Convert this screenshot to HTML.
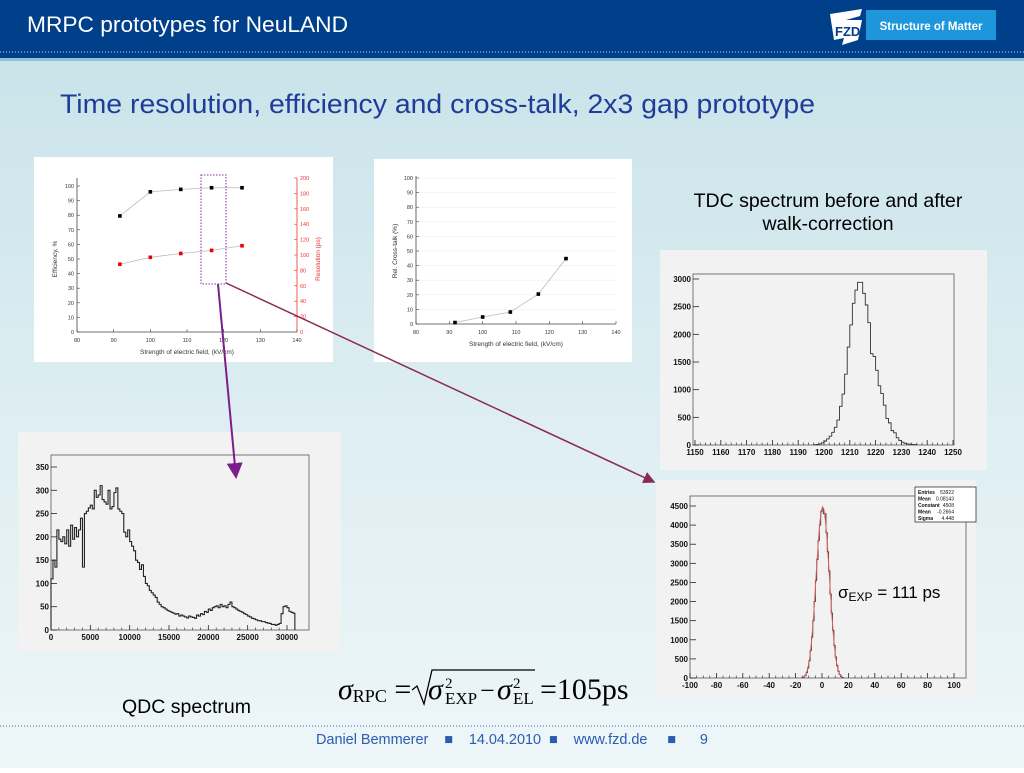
<!DOCTYPE html>
<html><head><meta charset="utf-8">
<style>
html,body{margin:0;padding:0;}
body{width:1024px;height:768px;overflow:hidden;font-family:"Liberation Sans",sans-serif;}
svg text{font-family:"Liberation Sans",sans-serif;}
svg text.serif, svg text.serif tspan{font-family:"Liberation Serif",serif;}
</style></head>
<body>
<svg id="slide" width="1024" height="768" viewBox="0 0 1024 768" xmlns="http://www.w3.org/2000/svg">
<defs>
<linearGradient id="bg" x1="0" y1="0" x2="0" y2="1">
<stop offset="0" stop-color="#c6e2e9"/><stop offset="0.5" stop-color="#dcedf1"/><stop offset="1" stop-color="#eef6f8"/>
</linearGradient>
<marker id="arrP" markerWidth="8" markerHeight="8" refX="7" refY="4" orient="auto"><path d="M0,0 L8,4 L0,8 z" fill="#7a1e8c"/></marker>
<marker id="arrR" markerWidth="8" markerHeight="8" refX="7" refY="4" orient="auto"><path d="M0,0 L8,4 L0,8 z" fill="#8a2a55"/></marker>
</defs>
<rect x="0" y="0" width="1024" height="768" fill="url(#bg)"/>
<rect x="0" y="0" width="1024" height="58" fill="#003f8a"/>
<line x1="0" y1="52" x2="1024" y2="52" stroke="#cfe0f0" stroke-width="1" stroke-dasharray="1 2"/>
<rect x="0" y="58" width="1024" height="3" fill="#8fc1dc"/>
<text x="27" y="32" fill="#fff" font-size="22" textLength="321" lengthAdjust="spacingAndGlyphs">MRPC prototypes for NeuLAND</text>
<g>
<path d="M830,14 L862,9 L860,16 L846,20 L862,20 L858,40 L842,45 L844,38 L834,40 Z" fill="#fff"/>
<text x="835" y="36" fill="#003f8a" font-size="13" font-weight="bold">FZD</text>
</g>
<rect x="866" y="10" width="130" height="30" fill="#1e96dc"/>
<text x="931" y="30" fill="#fff" font-size="11.5" font-weight="bold" text-anchor="middle">Structure of Matter</text>

<text x="60" y="113" fill="#1f3c99" font-size="27" textLength="755" lengthAdjust="spacingAndGlyphs">Time resolution, efficiency and cross-talk, 2x3 gap prototype</text>

<g id="c1"></g>
<g id="c2"></g>
<g id="c3"></g>
<g id="c4"></g>
<g id="c5"></g>

<text x="828" y="207" font-size="19.5" text-anchor="middle">TDC spectrum before and after</text>
<text x="828" y="230" font-size="19.5" text-anchor="middle">walk-correction</text>
<text x="122" y="713" font-size="19.5">QDC spectrum</text>

<g>
<text class="serif" x="338" y="699" font-size="30"><tspan font-style="italic">σ</tspan><tspan font-size="18" dy="3">RPC</tspan><tspan dy="-3"> = </tspan></text>
<path d="M412,690 L417,686 L424,704 L432,670 L535,670" fill="none" stroke="#000" stroke-width="1.3"/>
<text class="serif" x="428" y="699" font-size="30" font-style="italic">σ</text>
<text class="serif" x="445" y="688" font-size="15">2</text>
<text class="serif" x="445" y="704" font-size="17">EXP</text>
<text class="serif" x="480" y="699" font-size="26">−</text>
<text class="serif" x="497" y="699" font-size="30" font-style="italic">σ</text>
<text class="serif" x="513" y="688" font-size="15">2</text>
<text class="serif" x="513" y="704" font-size="17">EL</text>
<text class="serif" x="540" y="699" font-size="30">=105ps</text>
</g>

<line x1="0" y1="726" x2="1024" y2="726" stroke="#3a6ab0" stroke-width="1" stroke-dasharray="1 2"/>
<text x="316" y="744" font-size="14.5" fill="#2a5db0" textLength="392" lengthAdjust="spacing" xml:space="preserve">Daniel Bemmerer    ■    14.04.2010  ■    www.fzd.de     ■      9</text>

<rect x="201" y="175" width="25" height="109" fill="none" stroke="#8a2aa0" stroke-width="1" stroke-dasharray="1.5 1.5"/>
<line x1="218" y1="284" x2="236" y2="477" stroke="#7a1e8c" stroke-width="2" marker-end="url(#arrP)"/>
<line x1="226" y1="283" x2="654" y2="482" stroke="#8a2a55" stroke-width="1.5" marker-end="url(#arrR)"/>
</svg>
<script>
// ---- data ----
const fieldX = [91.7, 100, 108.3, 116.7, 125];
const efficiency = [79.5, 96, 97.7, 98.8, 98.8];
const resolution = [88, 97, 102, 106, 112];
const crosstalk = [1, 4.8, 8.2, 20.5, 44.8];
const effTicks = [0,10,20,30,40,50,60,70,80,90,100];
const resTicks = [0,20,40,60,80,100,120,140,160,180,200];
const fieldTicks = [80,90,100,110,120,130,140];

const tdcStart = 1196;
const tdcCounts = [5,10,20,40,70,110,160,230,320,450,700,920,1280,1770,2170,2560,2800,2940,2940,2740,2530,2210,1650,1600,1350,1070,930,720,480,400,260,220,130,80,50,30,20,15,10,5];
const tdcXTicks = [1150,1160,1170,1180,1190,1200,1210,1220,1230,1240,1250];
const tdcYTicks = [0,500,1000,1500,2000,2500,3000];

const qdcBinWidth = 250;
const qdcCounts = [110,150,135,215,195,190,200,185,215,180,225,195,220,200,215,240,135,250,255,262,268,260,300,285,290,310,280,275,270,300,260,265,295,305,260,255,250,210,200,215,190,180,170,150,145,130,140,115,100,95,85,80,75,70,60,55,50,48,45,42,40,38,36,34,35,30,32,30,28,26,30,28,27,25,32,30,35,33,40,38,45,42,48,50,52,48,55,50,52,48,55,60,50,48,45,42,40,38,35,33,30,28,25,24,22,20,20,18,18,16,15,14,12,12,10,12,14,35,50,52,48,40,38,36];
const qdcXTicks = [0,5000,10000,15000,20000,25000,30000];
const qdcYTicks = [0,50,100,150,200,250,300,350];

const corrStart = -15;
const corrCounts = [10,30,70,140,260,450,720,1070,1500,2000,2550,3100,3600,4000,4350,4420,4300,4300,3800,3300,2800,2200,1700,1250,850,550,330,180,90,40,15];
const fitCounts = [15,35,80,160,290,480,760,1120,1560,2080,2650,3200,3700,4100,4380,4480,4400,4150,3760,3260,2720,2160,1640,1180,800,510,310,170,90,45,20];
const corrXTicks = [-100,-80,-60,-40,-20,0,20,40,60,80,100];
const corrYTicks = [0,500,1000,1500,2000,2500,3000,3500,4000,4500];
const statLabels = ["Entries","Mean","Constant","Mean","Sigma"];
const statValues = ["53922","0.08143","4508","-0.2664","4.448"];

const NS="http://www.w3.org/2000/svg";
function mk(parent,tag,attrs,text){const e=document.createElementNS(NS,tag);for(const k in attrs)e.setAttribute(k,attrs[k]);if(text!==undefined)e.textContent=text;parent.appendChild(e);return e;}
function lin(d0,d1,r0,r1){return v=>r0+(v-d0)*(r1-r0)/(d1-d0);}

// ---- Chart 1 ----
(function(){
const g=document.getElementById('c1');
const p=mk(g,'rect',{x:34,y:157,width:299,height:205,fill:'#fff'});


const X=lin(80,140,77,297), Y=lin(0,100,332,186), YR=lin(0,200,332,178);
mk(g,'line',{x1:77,y1:332,x2:297,y2:332,stroke:'#444','stroke-width':0.8});
mk(g,'line',{x1:77,y1:332,x2:77,y2:178,stroke:'#444','stroke-width':0.8});
mk(g,'line',{x1:297,y1:332,x2:297,y2:178,stroke:'#e33','stroke-width':0.8});
fieldTicks.forEach(t=>{mk(g,'line',{x1:X(t),y1:332,x2:X(t),y2:329,stroke:'#444','stroke-width':0.6});
 const l=mk(g,'text',{x:X(t),y:342,'font-size':5.5,'text-anchor':'middle',fill:'#333'},t);
 
 });
effTicks.forEach(t=>{mk(g,'line',{x1:77,y1:Y(t),x2:80,y2:Y(t),stroke:'#444','stroke-width':0.6});
 mk(g,'text',{x:74,y:Y(t)+2,'font-size':5.5,'text-anchor':'end',fill:'#333'},t);});
resTicks.forEach(t=>{mk(g,'line',{x1:297,y1:YR(t),x2:294,y2:YR(t),stroke:'#e33','stroke-width':0.6});
 mk(g,'text',{x:300,y:YR(t)+2,'font-size':5.5,fill:'#e33'},t);});
const xt=mk(g,'text',{x:187,y:354,'font-size':6.5,'text-anchor':'middle',fill:'#333'},'Strength of electric field, (kV/cm)');


mk(g,'text',{x:57,y:259,'font-size':6.5,'text-anchor':'middle',fill:'#333',transform:'rotate(-90 57 259)'},'Efficiency, %');
mk(g,'text',{x:320,y:259,'font-size':6.5,'text-anchor':'middle',fill:'#e33',transform:'rotate(-90 320 259)'},'Resolution (ps)');
mk(g,'polyline',{points:fieldX.map((x,i)=>X(x)+','+Y(efficiency[i])).join(' '),fill:'none',stroke:'#bbb','stroke-width':0.8});
mk(g,'polyline',{points:fieldX.map((x,i)=>X(x)+','+YR(resolution[i])).join(' '),fill:'none',stroke:'#bbb','stroke-width':0.8});
fieldX.forEach((x,i)=>{
 const a=mk(g,'rect',{x:X(x)-1.8,y:Y(efficiency[i])-1.8,width:3.6,height:3.6,fill:'#000'});
 
 
 const b=mk(g,'rect',{x:X(x)-1.8,y:YR(resolution[i])-1.8,width:3.6,height:3.6,fill:'#e00'});
 
 
});
})();

// ---- Chart 2 ----
(function(){
const g=document.getElementById('c2');
const p=mk(g,'rect',{x:374,y:159,width:258,height:203,fill:'#fff'});


const X=lin(80,140,416,616), Y=lin(0,100,324,178);
effTicks.forEach(t=>{ if(t>0) mk(g,'line',{x1:416,y1:Y(t),x2:616,y2:Y(t),stroke:'#eee','stroke-width':0.6});
 mk(g,'line',{x1:416,y1:Y(t),x2:419,y2:Y(t),stroke:'#444','stroke-width':0.6});
 mk(g,'text',{x:413,y:Y(t)+2,'font-size':5.5,'text-anchor':'end',fill:'#333'},t);});
mk(g,'line',{x1:416,y1:324,x2:616,y2:324,stroke:'#444','stroke-width':0.8});
mk(g,'line',{x1:416,y1:324,x2:416,y2:176,stroke:'#444','stroke-width':0.8});
fieldTicks.forEach(t=>{mk(g,'line',{x1:X(t),y1:324,x2:X(t),y2:321,stroke:'#444','stroke-width':0.6});
 mk(g,'text',{x:X(t),y:334,'font-size':5.5,'text-anchor':'middle',fill:'#333'},t);});
mk(g,'text',{x:516,y:346,'font-size':6.5,'text-anchor':'middle',fill:'#333'},'Strength of electric field, (kV/cm)');
mk(g,'text',{x:397,y:251,'font-size':6.5,'text-anchor':'middle',fill:'#333',transform:'rotate(-90 397 251)'},'Rel. Cross-talk (%)');
mk(g,'polyline',{points:fieldX.map((x,i)=>X(x)+','+Y(crosstalk[i])).join(' '),fill:'none',stroke:'#bbb','stroke-width':0.8});
fieldX.forEach((x,i)=>{const a=mk(g,'rect',{x:X(x)-1.8,y:Y(crosstalk[i])-1.8,width:3.6,height:3.6,fill:'#000'});
 
 });
})();

function histPath(start,w,counts,X,Y){
 let d='M'+X(start)+','+Y(0);
 counts.forEach((c,i)=>{const x0=X(start+i*w),x1=X(start+(i+1)*w);d+=' L'+x0+','+Y(c)+' L'+x1+','+Y(c);});
 d+=' L'+X(start+counts.length*w)+','+Y(0);return d;}

function rootFrame(g,px,py,pw,ph,fx0,fy0,fx1,fy1,xt,yt,X,Y,minorX){
 mk(g,'rect',{x:px,y:py,width:pw,height:ph,fill:'#f2f2f2'});
 mk(g,'rect',{x:fx0,y:fy0,width:fx1-fx0,height:fy1-fy0,fill:'#f2f2f2',stroke:'#555','stroke-width':0.8});
 xt.forEach((t,i)=>{mk(g,'line',{x1:X(t),y1:fy1,x2:X(t),y2:fy1-5,stroke:'#222','stroke-width':0.8});
  if(i<xt.length-1) for(let k=1;k<minorX;k++){const xx=X(t)+(X(xt[i+1])-X(t))*k/minorX;mk(g,'line',{x1:xx,y1:fy1,x2:xx,y2:fy1-2.5,stroke:'#222','stroke-width':0.6});}
  mk(g,'text',{x:X(t),y:fy1+10,'font-size':8,'font-weight':'bold','text-anchor':'middle',fill:'#111'},t);});
 yt.forEach(t=>{mk(g,'line',{x1:fx0,y1:Y(t),x2:fx0+6,y2:Y(t),stroke:'#222','stroke-width':0.8});
  mk(g,'text',{x:fx0-2,y:Y(t)+3,'font-size':8,'font-weight':'bold','text-anchor':'end',fill:'#111'},t);});
}

// ---- Chart 3: TDC ----
(function(){
const g=document.getElementById('c3');
const X=lin(1150,1250,695,953), Y=lin(0,3000,445,279);
rootFrame(g,660,250,327,220,693,274,954,445,tdcXTicks,tdcYTicks,X,Y,5);
const h=mk(g,'path',{d:histPath(tdcStart,1,tdcCounts,X,Y),fill:'none',stroke:'#333','stroke-width':0.9});


})();

// ---- Chart 4: QDC ----
(function(){
const g=document.getElementById('c4');
const X=lin(0,30000,51,287), Y=lin(0,350,630,467);
rootFrame(g,18,432,323,220,51,455,309,630,qdcXTicks,qdcYTicks,X,Y,5);
const h=mk(g,'path',{d:histPath(0,qdcBinWidth,qdcCounts,X,Y),fill:'none',stroke:'#222','stroke-width':1.1});


})();

// ---- Chart 5 ----
(function(){
const g=document.getElementById('c5');
const X=lin(-100,100,690,954), Y=lin(0,4500,678,506);
rootFrame(g,656,480,320,218,690,496,966,678,corrXTicks,corrYTicks,X,Y,4);
const h=mk(g,'path',{d:histPath(corrStart,1,corrCounts,X,Y),fill:'none',stroke:'#333','stroke-width':0.9});


const f=mk(g,'polyline',{points:fitCounts.map((c,i)=>X(corrStart+i+0.5)+','+Y(c)).join(' '),fill:'none',stroke:'#e06060','stroke-width':1});


const sb=mk(g,'rect',{x:915,y:487,width:61,height:35,fill:'#fff',stroke:'#333','stroke-width':0.8});


statLabels.forEach((l,i)=>{mk(g,'text',{x:918,y:494+i*6.5,'font-size':5,'font-weight':'bold',fill:'#111'},l);
 mk(g,'text',{x:954,y:494+i*6.5,'font-size':5,'text-anchor':'end',fill:'#111'},statValues[i]);});
const s=mk(g,'text',{x:838,y:598,'font-size':17,fill:'#000'});


mk(s,'tspan',{},'σ');mk(s,'tspan',{'font-size':12,dy:3},'EXP');mk(s,'tspan',{dy:-3},' = 111 ps');
})();
</script>
</body></html>
